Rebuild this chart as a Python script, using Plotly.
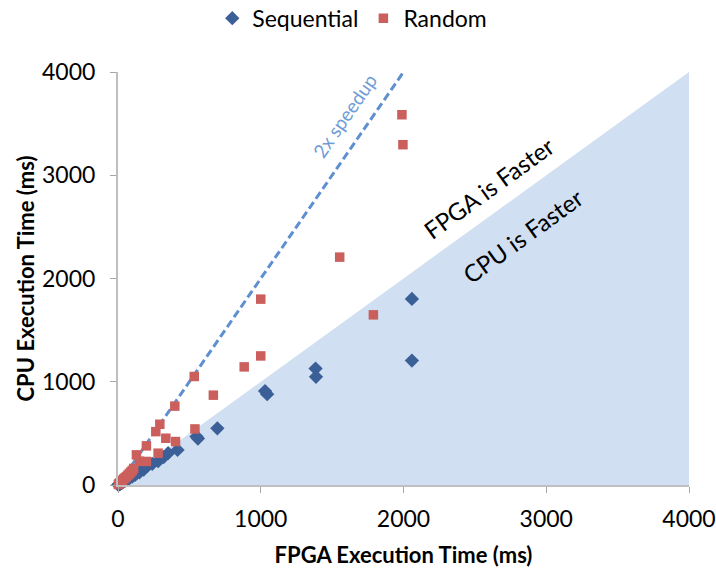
import plotly.graph_objects as go

# Sequential (FPGA ms, CPU ms)
seq_fpga = [2, 5, 10, 15, 20, 25, 30, 40, 50, 60, 70, 80, 100, 120, 150, 180, 204, 240, 281, 320, 351, 417, 550, 560, 696, 1030, 1045, 1384, 1387, 2059, 2059]
seq_cpu = [2, 4, 8, 12, 16, 20, 25, 33, 42, 50, 58, 66, 82, 98, 122, 150, 183, 205, 231, 270, 308, 340, 469, 450, 549, 910, 880, 1128, 1048, 1802, 1205]

# Random (FPGA ms, CPU ms)
rnd_fpga = [3, 6, 10, 15, 20, 25, 30, 40, 50, 60, 70, 80, 90, 100, 110, 129, 150, 199, 199, 265, 281, 293, 335, 398, 403, 534, 539, 668, 884, 1000, 1000, 1553, 1789, 1989, 1996]
rnd_cpu = [5, 9, 15, 22, 30, 36, 45, 58, 70, 82, 96, 110, 125, 140, 160, 292, 230, 379, 228, 517, 308, 588, 453, 764, 421, 1051, 543, 870, 1144, 1250, 1800, 2207, 1648, 3586, 3296]

# Region boundaries
fill_x = [0, 4000, 4000, 0]
fill_y = [0, 0, 4000, 0]
speedup_x = [0, 2025]
speedup_y = [0, 4050]

x_ticks = [0, 1000, 2000, 3000, 4000]
y_ticks = [0, 1000, 2000, 3000, 4000]

FONT = "Lato"
BLUE = "#3B5F97"
RED = "#CB5F5C"
TXT = "#000000"

fig = go.Figure()
fig.add_trace(go.Scatter(x=fill_x, y=fill_y, mode="lines", fill="toself",
                         fillcolor="#D0DFF1", line=dict(width=0), hoverinfo="skip",
                         showlegend=False))
fig.add_trace(go.Scatter(x=speedup_x, y=speedup_y, mode="lines",
                         line=dict(color="#5E8FD0", width=3, dash="8px,4px"),
                         hoverinfo="skip", showlegend=False, cliponaxis=False))
fig.add_trace(go.Scatter(x=seq_fpga, y=seq_cpu, mode="markers", name="Sequential",
                         marker=dict(symbol="diamond", size=11, color=BLUE),
                         cliponaxis=False))
fig.add_trace(go.Scatter(x=rnd_fpga, y=rnd_cpu, mode="markers", name="Random",
                         marker=dict(symbol="square", size=9.5, color=RED),
                         cliponaxis=False))

fig.add_annotation(x=1590, y=3574, text="2x speedup", showarrow=False, textangle=-55.3,
                   font=dict(family=FONT, size=19, color="#6F9BD6"))
fig.add_annotation(x=2600, y=2880, text="FPGA is Faster", showarrow=False, textangle=-35.9,
                   font=dict(family=FONT, size=24, color=TXT))
fig.add_annotation(x=2837, y=2421, text="CPU is Faster", showarrow=False, textangle=-35.9,
                   font=dict(family=FONT, size=24, color=TXT))

axis_common = dict(showgrid=False, zeroline=False, showline=True, linecolor="#BFBFBF",
                   linewidth=2, ticks="outside", ticklen=6, tickcolor="#A6A6A6",
                   tickwidth=1, range=[0, 4000], automargin=False,
                   tickfont=dict(family=FONT, size=23, color=TXT))

fig.update_layout(
    width=716, height=570,
    margin=dict(l=118, r=27, t=72, b=85),
    paper_bgcolor="white", plot_bgcolor="white",
    font=dict(family=FONT),
    xaxis=dict(**axis_common, tickvals=x_ticks, ticklabelstandoff=6,
               title=dict(text="<b>FPGA Execution Time (ms)</b>", standoff=17,
                          font=dict(family=FONT, size=22, color=TXT))),
    yaxis=dict(**axis_common, tickvals=y_ticks, ticklabelstandoff=10,
               title=dict(text="<b>CPU Execution Time (ms)</b>", standoff=1,
                          font=dict(family=FONT, size=22, color=TXT))),
    legend=dict(orientation="h", xref="container", yref="container",
                x=0.492, xanchor="center", y=0.968, yanchor="middle",
                font=dict(family=FONT, size=23, color=TXT), itemwidth=30,
                tracegroupgap=0),
)

fig.write_html("out.html", config={"displayModeBar": False},
               post_script="document.body.style.margin='0px';")
